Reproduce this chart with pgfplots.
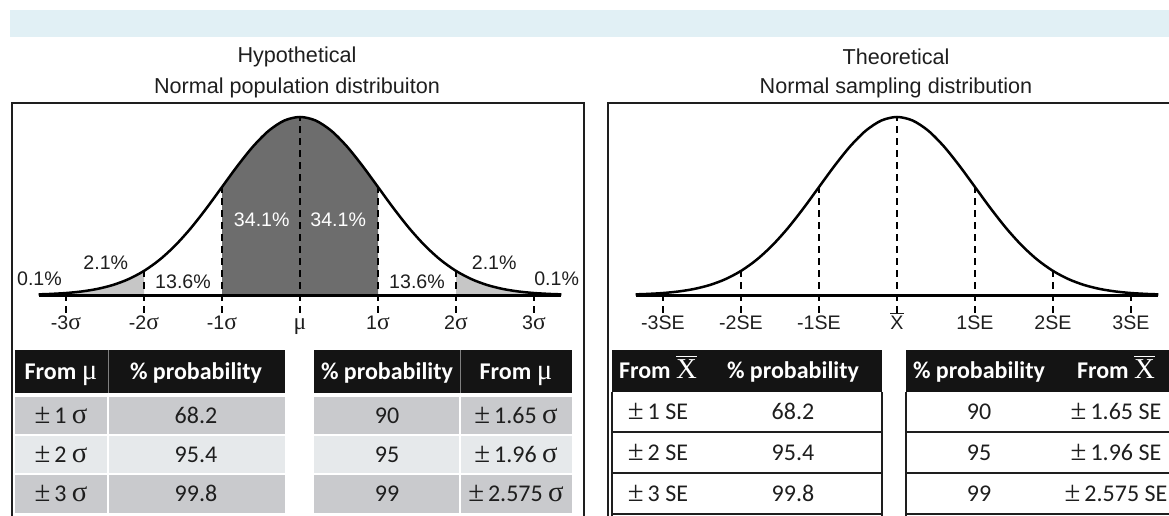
\documentclass[border=0pt]{standalone}
\usepackage{fontspec}
\usepackage{pgfplots}
\usepackage{pgfplotstable}
\pgfplotsset{compat=1.18}
\setmainfont{Liberation Sans}
\newfontfamily\tabfont{Carlito}
\newfontfamily\greek{Liberation Serif}[Scale=1.2]

\definecolor{band}{HTML}{E1F0F5}
\definecolor{darkfill}{HTML}{6D6D6D}
\definecolor{lightfill}{HTML}{C6C6C6}
\definecolor{rowgrey}{HTML}{C9CACD}
\definecolor{rowlight}{HTML}{E6E9EB}
\definecolor{headblack}{HTML}{141414}
\definecolor{ink}{HTML}{1E1E1E}

% standard normal density
\pgfplotstableread{
x y
-3.35 0.00146
-3.2 0.00238
-3.0 0.00443
-2.8 0.00792
-2.6 0.01358
-2.4 0.02239
-2.2 0.03547
-2.0 0.05399
-1.8 0.07895
-1.6 0.11092
-1.4 0.14973
-1.2 0.19419
-1.0 0.24197
-0.8 0.28969
-0.6 0.33322
-0.4 0.36827
-0.2 0.39104
0.0 0.39894
0.2 0.39104
0.4 0.36827
0.6 0.33322
0.8 0.28969
1.0 0.24197
1.2 0.19419
1.4 0.14973
1.6 0.11092
1.8 0.07895
2.0 0.05399
2.2 0.03547
2.4 0.02239
2.6 0.01358
2.8 0.00792
3.0 0.00443
3.2 0.00238
3.35 0.00146
}\curve

\newcommand\guide[2]{\addplot[guide] coordinates {(#1,-0.04) (#1,#2)};}

\pgfplotsset{
  normal/.style={
    scale only axis, width=273pt, height=99.05pt,
    xmin=-3.5, xmax=3.5, ymin=-0.045, ymax=0.39894,
    axis y line=none, axis x line*=bottom, x axis line style={draw=none},
    xtick={-3,-2,-1,0,1,2,3}, xtick style={draw=none}, major tick length=0pt,
    xticklabel style={font=\fontsize{9.8}{11}\selectfont, text=ink, inner sep=0pt,
      anchor=north, text height=7.2pt, text depth=0.5pt},
    clip=false, anchor=south west},
}

\tikzset{
  guide/.style={black, line width=0.75pt, dash pattern=on 3.5pt off 2.5pt},
  pct/.style={font=\fontsize{9.8}{11}\selectfont, text=ink, inner sep=0pt},
  head/.style={font=\tabfont\bfseries\fontsize{12}{14}\selectfont, text=white, inner sep=0pt,
    text height=7.6pt, text depth=0.3pt},
  body/.style={font=\tabfont\fontsize{12}{14}\selectfont, text=ink, inner sep=0pt,
    text height=7.6pt, text depth=0.3pt},
}

\begin{document}
\begin{tikzpicture}
\path[use as bounding box] (0,0) rectangle (584.5pt,-257.5pt);

\begin{scope}[x=0.5pt, y=-0.5pt]
  \fill[band] (10,10) rectangle (1175,37);
  \node[font=\fontsize{10.8}{13}\selectfont, text=ink] at (297,57) {Hypothetical};
  \node[font=\fontsize{10.8}{13}\selectfont, text=ink] at (297,88) {Normal population distribuiton};
  \node[font=\fontsize{10.8}{13}\selectfont, text=ink] at (896,57) {Theoretical};
  \node[font=\fontsize{10.8}{13}\selectfont, text=ink] at (896,88) {Normal sampling distribution};
  \draw[line width=0.75pt, ink] (12,540) -- (12,103) -- (584,103) -- (584,540);
  \draw[line width=0.75pt, ink] (608,540) -- (608,103) -- (1190,103);

  % left panel tables
  \fill[headblack] (15,350) rectangle (285,393);
  \draw[gray, line width=0.5pt] (108,350) -- (108,393);
  \fill[headblack] (314,350) rectangle (572,393);
  \draw[gray, line width=0.5pt] (460,350) -- (460,393);
  \foreach \ya/\yb/\c in {397/434/rowgrey, 436/473/rowlight, 475/513/rowgrey}{
    \fill[\c] (15,\ya) rectangle (107,\yb);
    \fill[\c] (109,\ya) rectangle (285,\yb);
    \fill[\c] (314,\ya) rectangle (459,\yb);
    \fill[\c] (461,\ya) rectangle (572,\yb);
  }
  \node[head] at (61,372) {From {\greek\mdseries μ}};
  \node[head] at (196,372) {\% probability};
  \node[head] at (387,372) {\% probability};
  \node[head] at (516,372) {From {\greek\mdseries μ}};
  \node[body] at (61,416) {{\greek ±}\,1 {\greek σ}};
  \node[body] at (61,455) {{\greek ±}\,2 {\greek σ}};
  \node[body] at (61,494) {{\greek ±}\,3 {\greek σ}};
  \node[body] at (196,416) {68.2};
  \node[body] at (196,455) {95.4};
  \node[body] at (196,494) {99.8};
  \node[body] at (387,416) {90};
  \node[body] at (387,455) {95};
  \node[body] at (387,494) {99};
  \node[body] at (516,416) {{\greek ±}\,1.65 {\greek σ}};
  \node[body] at (516,455) {{\greek ±}\,1.96 {\greek σ}};
  \node[body] at (516,494) {{\greek ±}\,2.575 {\greek σ}};

  % right panel tables
  \fill[headblack] (612,350) rectangle (882,392);
  \fill[headblack] (906,350) rectangle (1190,392);
  \draw[line width=0.75pt, ink] (612,392) -- (612,530);
  \draw[line width=0.75pt, ink] (882,392) -- (882,530);
  \draw[line width=0.75pt, ink] (906,392) -- (906,530);
  \foreach \yy in {432,473,514}{
    \draw[line width=0.75pt, ink] (612,\yy) -- (882,\yy);
    \draw[line width=0.75pt, ink] (906,\yy) -- (1190,\yy);
  }
  \node[head] at (658,371) {From {\greek\mdseries $\overline{\mbox{X}}$}};
  \node[head] at (793,371) {\% probability};
  \node[head] at (979,371) {\% probability};
  \node[head] at (1116,371) {From {\greek\mdseries $\overline{\mbox{X}}$}};
  \node[body] at (658,412) {{\greek ±}\,1 SE};
  \node[body] at (658,453) {{\greek ±}\,2 SE};
  \node[body] at (658,494) {{\greek ±}\,3 SE};
  \node[body] at (793,412) {68.2};
  \node[body] at (793,453) {95.4};
  \node[body] at (793,494) {99.8};
  \node[body] at (979,412) {90};
  \node[body] at (979,453) {95};
  \node[body] at (979,494) {99};
  \node[body] at (1116,412) {{\greek ±}\,1.65 SE};
  \node[body] at (1116,453) {{\greek ±}\,1.96 SE};
  \node[body] at (1116,494) {{\greek ±}\,2.575 SE};
\end{scope}

% left: population distribution
\begin{axis}[normal, at={(13.5pt,-157.54pt)},
  xticklabels={-3{\greek σ},-2{\greek σ},-1{\greek σ},{\greek μ},1{\greek σ},2{\greek σ},3{\greek σ}}]
  \addplot[draw=none, fill=darkfill, smooth, restrict x to domain=-1.01:1.01] table {\curve} \closedcycle;
  \addplot[draw=none, fill=lightfill, smooth, restrict x to domain=-3.4:-1.99] table {\curve} \closedcycle;
  \addplot[draw=none, fill=lightfill, smooth, restrict x to domain=1.99:3.4] table {\curve} \closedcycle;
  \guide{-3}{0}
  \guide{-2}{0.05399}
  \guide{-1}{0.24197}
  \guide{0}{0.39894}
  \guide{1}{0.24197}
  \guide{2}{0.05399}
  \guide{3}{0}
  \addplot[black, line width=1.25pt, smooth] table {\curve};
  \addplot[black, line width=1.5pt] coordinates {(-3.35,0) (3.35,0)};
  \node[pct] at (axis cs:-3.34,0.036) {0.1\%};
  \node[pct] at (axis cs:-2.49,0.072) {2.1\%};
  \node[pct] at (axis cs:-1.50,0.029) {13.6\%};
  \node[pct, text=white] at (axis cs:-0.49,0.168) {34.1\%};
  \node[pct, text=white] at (axis cs:0.49,0.168) {34.1\%};
  \node[pct] at (axis cs:1.50,0.029) {13.6\%};
  \node[pct] at (axis cs:2.49,0.072) {2.1\%};
  \node[pct] at (axis cs:3.29,0.036) {0.1\%};
\end{axis}

% right: sampling distribution
\begin{axis}[normal, at={(312pt,-157.54pt)},
  xticklabels={-3SE,-2SE,-1SE,$\overline{\mbox{X}}$,1SE,2SE,3SE}]
  \guide{-3}{0}
  \guide{-2}{0.05399}
  \guide{-1}{0.24197}
  \guide{0}{0.39894}
  \guide{1}{0.24197}
  \guide{2}{0.05399}
  \guide{3}{0}
  \addplot[black, line width=1.25pt, smooth] table {\curve};
  \addplot[black, line width=1.5pt] coordinates {(-3.35,0) (3.35,0)};
\end{axis}
\end{tikzpicture}
\end{document}
